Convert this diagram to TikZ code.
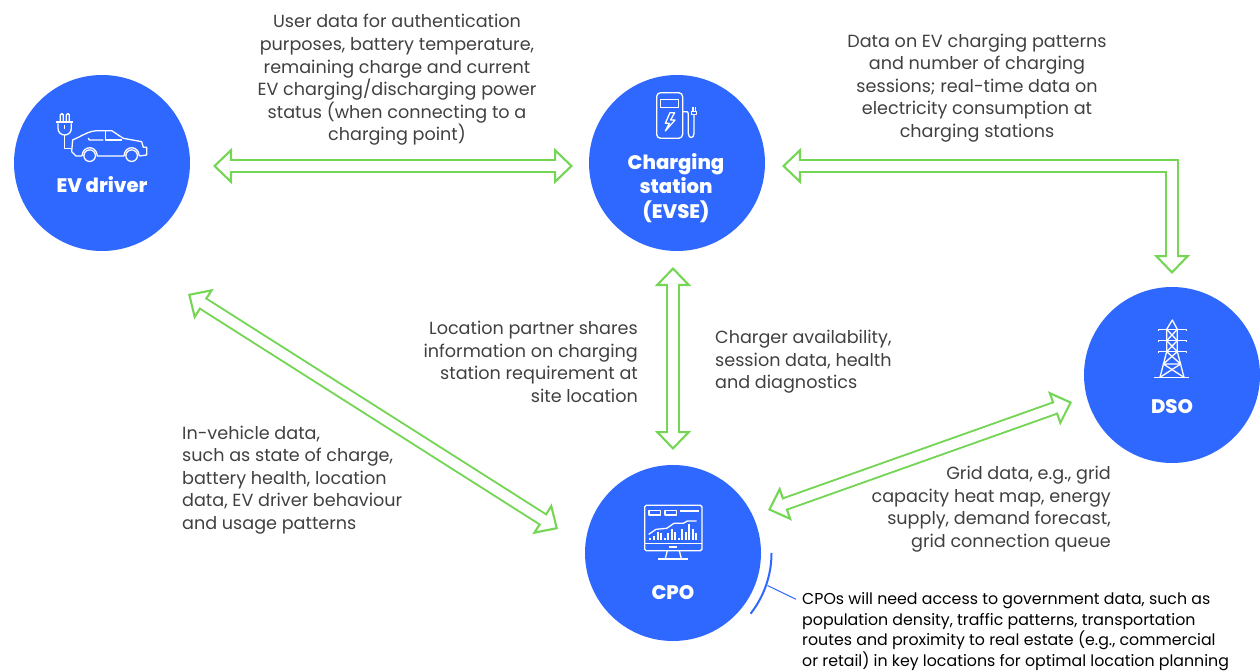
\documentclass[tikz,border=0pt]{standalone}
\usepackage{fontspec}
\setmainfont{Poppins}
\newfontfamily\hubfont{Poppins ExtraBold}
\usetikzlibrary{arrows.meta, positioning}
\definecolor{HubBlue}{HTML}{2F68FF}
\definecolor{LinkGreen}{HTML}{74D654}
\definecolor{BodyGrey}{HTML}{404040}
\tikzset{
  hubnode/.style={circle, fill=HubBlue, minimum size=176pt, inner sep=0pt},
  hublabel/.style={text=white, font=\fontsize{19.6}{24.5}\hubfont, align=center, inner sep=0pt},
  infotext/.style={text=BodyGrey, font=\fontsize{17.6}{22.6}\selectfont, inner sep=0pt},
  notetext/.style={text=black, font=\fontsize{15.8}{20.6}\selectfont, inner sep=0pt, align=left},
  linktip/.tip={Triangle[open, length=19pt, width=36pt, line width=2.1pt, fill=white]},
  link/.style={draw=LinkGreen, line width=2.1pt, double=white, double distance=9.6pt, linktip-linktip,
    postaction={draw=white, double=none, line width=9.6pt, arrows=-, shorten <=16.5pt, shorten >=16.5pt}},
  iconline/.style={draw=white, line width=1.3pt, line join=round},
  iconthick/.style={draw=white, line width=2.2pt}
}
\begin{document}
\begin{tikzpicture}[x=1pt, y=-1pt]
  \useasboundingbox (0,0) rectangle (1260,671);
  \node[hubnode] (evdriver) at (102,163) {};
  \node[hubnode] (charging) at (677,163) {};
  \node[hubnode] (dso) at (1172,375) {};
  \node[hubnode] (cpo) at (673,553) {};
  \node[hublabel] (evdriverlabel) at (102,185) {EV driver};
  \node[hublabel] (charginglabel) at (676,188) {Charging\\station\\(EVSE)};
  \node[hublabel] (dsolabel) at (1172,407) {DSO};
  \node[hublabel] (cpolabel) at (673,593) {CPO};

  \node[infotext, align=center] (drivertext) at (397,80) {User data for authentication\\purposes, battery temperature,\\remaining charge and current\\EV charging/discharging power\\status (when connecting to a\\charging point)};
  \node[infotext, align=center] (dsotext) at (977,88) {Data on EV charging patterns\\and number of charging\\sessions; real-time data on\\electricity consumption at\\charging stations};
  \node[infotext, align=right, anchor=east] (locationtext) at (638,362) {Location partner shares\\information on charging\\station requirement at\\site location};
  \node[infotext, align=left, anchor=west] (availabilitytext) at (715,362) {Charger availability,\\session data, health\\and diagnostics};
  \node[infotext, align=left, anchor=west] (vehicletext) at (182,480) {In-vehicle data,\\such as state of charge,\\battery health, location\\data, EV driver behaviour\\and usage patterns};
  \node[infotext, align=right, anchor=east] (gridtext) at (1111,509) {Grid data, e.g., grid\\capacity heat map, energy\\supply, demand forecast,\\grid connection queue};
  \node[notetext, anchor=west] (govnote) at (802,631.5) {CPOs will need access to government data, such as\\population density, traffic patterns, transportation\\routes and proximity to real estate (e.g., commercial\\or retail) in key locations for optimal location planning};

  % links
  \draw[link] ([shift={(111,3)}]evdriver.center) -- ([shift={(-104,3)}]charging.center);
  \draw[link] ([shift={(105,3)}]charging.center) -| ([shift={(0,-101)}]dso.center);
  \draw[link] ([shift={(-4,104)}]charging.center) -- ([shift={(0,-103)}]cpo.center);
  \draw[link] ([shift={(86,131)}]evdriver.center) -- ([shift={(-115,-24)}]cpo.center);
  \draw[link] ([shift={(-100,27)}]dso.center) -- ([shift={(95,-43)}]cpo.center);

  % callout
  \draw[draw=HubBlue, line width=2pt] ([shift={(0:98.5)}]cpo.center) arc[start angle=0, end angle=-38, radius=98.5pt];
  \coordinate (arcpoint) at ([shift={(19:100)}]cpo.center);
  \draw[draw=HubBlue, line width=1pt] (arcpoint) -- ([shift={(-6,7)}]govnote.north west);

  % car icon
  \begin{scope}[shift={(0,60)}, x=.3333pt, y=-.3333pt]
    \draw[iconline] (181,183) -- (181,165) arc[start angle=180, end angle=0, radius=1.5pt] -- (190,183);
    \draw[iconline] (199,183) -- (199,165) arc[start angle=180, end angle=0, radius=1.5pt] -- (208,183);
    \draw[iconline] (168,186) -- (220,186);
    \draw[iconline] (174,190) -- (174,205) .. controls (174,218) and (184,225) .. (194,225) .. controls (204,225) and (214,218) .. (214,205) -- (214,190);
    \draw[iconline] (194,225) -- (194,265) -- (213,265);
    \draw[iconline] (194,195) -- (194,207);
    \draw[iconline] (246,288) -- (228,288) -- (215,275) -- (218,240) -- (235,232) .. controls (255,222) and (270,213) .. (290,212) -- (335,212) -- (370,235) -- (425,245) -- (430,262) -- (440,262) -- (440,285) -- (418,288);
    \draw[iconline] (246,288) .. controls (248,255) and (290,255) .. (292,288) -- (372,288) .. controls (374,255) and (416,255) .. (418,288);
    \draw[iconline] (269,287) circle[radius=5.8pt];
    \draw[iconline] (395,287) circle[radius=5.8pt];
    \draw[iconline] (265,234) -- (268,240) -- (310,240);
    \draw[iconline] (317,213) -- (317,240) -- (365,240);
  \end{scope}

  % pump icon
  \begin{scope}[shift={(540,70)}, x=.3333pt, y=-.3333pt]
    \draw[iconline, rounded corners=4pt] (350,205) -- (350,68) -- (428,68) -- (428,205) -- cycle;
    \draw[iconline] (362,88) rectangle (416,112);
    \draw[iconline] (390,128) -- (376,160) -- (388,160) -- (376,183) -- (405,150) -- (392,150) -- (404,128) -- cycle;
    \draw[iconline] (428,125) -- (440,125) .. controls (446,125) and (445,135) .. (445,145) -- (445,190) .. controls (445,207) and (462,207) .. (462,190) -- (462,135);
    \draw[iconline] (455,124) -- (455,133) -- (470,133) -- (470,124) -- cycle;
    \draw[iconline] (459,124) -- (459,110);
    \draw[iconline] (467,124) -- (467,110);
  \end{scope}

  % monitor icon
  \begin{scope}[shift={(570,470)}, x=.3333pt, y=-.3333pt]
    \draw[iconline, rounded corners=1.5pt] (224,106) rectangle (396,242);
    \draw[iconline] (224,220) -- (396,220);
    \draw[iconthick] (298,231) -- (320,231);
    \draw[iconline] (292,242) -- (286,266);
    \draw[iconline] (328,242) -- (334,266);
    \draw[iconthick] (264,267) -- (354,267);
    \draw[iconline] (237,122) rectangle (272,135);
    \draw[iconline] (285,122) rectangle (320,135);
    \draw[iconthick] (330,122) -- (388,122);
    \draw[iconline] (236,193) -- (258,178) -- (290,175) -- (312,160) -- (340,160) -- (352,153) -- (380,153);
    \foreach \barx/\bartop in {240/203, 252/197, 264/187, 272/190, 284/203, 295/190, 306/178, 315/187, 326/203, 336/178, 348/187, 358/162, 368/178, 378/190}
      \draw[iconthick] (\barx,209) -- (\barx,\bartop);
  \end{scope}

  % tower icon
  \begin{scope}[shift={(1060,240)}, x=.3333pt, y=-.3333pt]
    \draw[iconline] (283,412) -- (388,412);
    \draw[iconline] (300,412) -- (320,335) -- (320,268) -- (337,240) -- (352,268) -- (352,335) -- (372,412);
    \foreach \army in {268,302,335}
      \draw[iconline] (295,\army+5) -- (295,\army) -- (380,\army) -- (380,\army+5);
    \draw[iconline] (320,268) -- (352,302) -- (320,335);
    \draw[iconline] (352,268) -- (320,302) -- (352,335);
    \draw[iconline] (320,335) -- (362,372) -- (310,372) -- (372,412);
    \draw[iconline] (352,335) -- (310,372);
    \draw[iconline] (362,372) -- (300,412);
  \end{scope}
\end{tikzpicture}
\end{document}
